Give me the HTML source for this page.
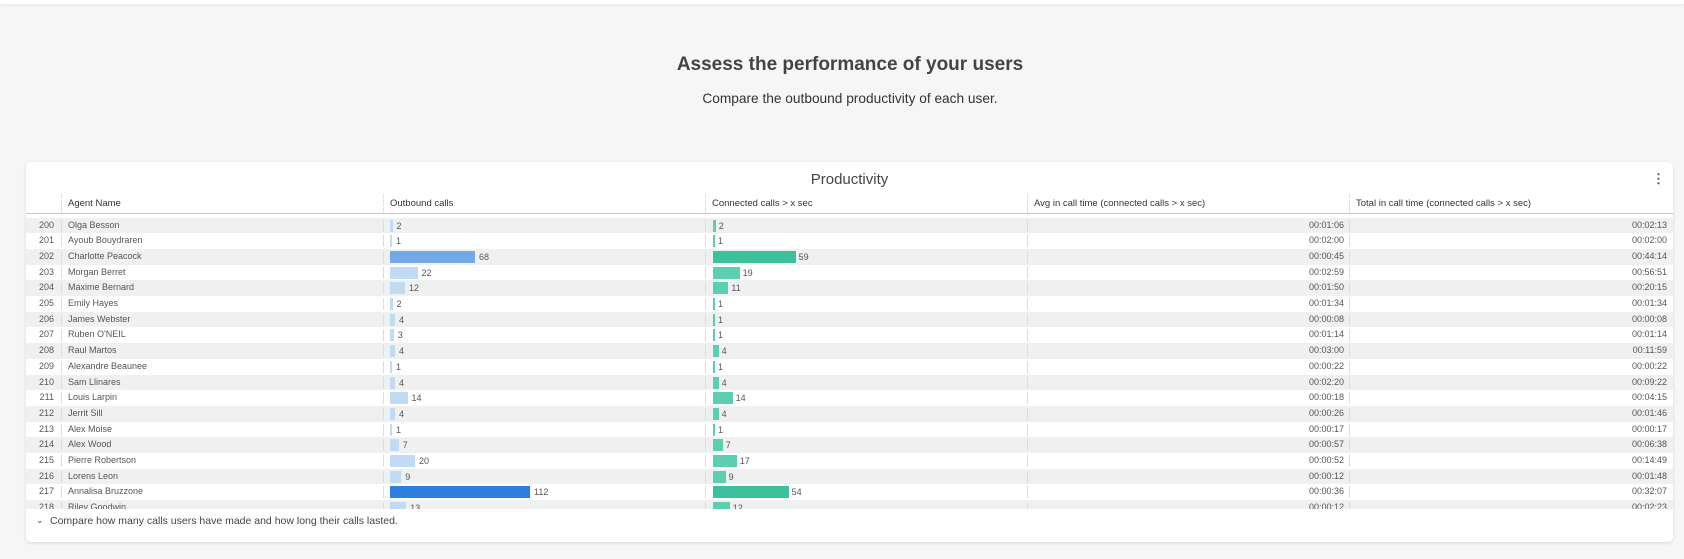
<!DOCTYPE html>
<html><head><meta charset="utf-8"><style>
*{margin:0;padding:0;box-sizing:border-box}
body{width:1684px;height:559px;background:#f6f6f6;font-family:"Liberation Sans",sans-serif;position:relative;overflow:hidden;color:#333}
.topbar{position:absolute;left:0;top:0;width:1684px;height:4px;background:#fff;box-shadow:0 1px 4px rgba(0,0,0,.08)}
h1{position:absolute;left:0;width:1700px;text-align:center;top:54px;font-size:19px;font-weight:bold;color:#444}
.sub{position:absolute;left:0;width:1700px;text-align:center;top:91px;font-size:13.7px;color:#333}
.card{position:absolute;left:26px;top:162px;width:1647px;height:380px;background:#fff;border-radius:5px;box-shadow:0 1px 3px rgba(0,0,0,.12);overflow:hidden}
.title{position:absolute;left:0;width:1647px;text-align:center;top:9px;font-size:15px;color:#444}
.kebab{position:absolute;left:1626px;top:9px;font-size:13px;color:#555;font-weight:bold}
.hdr{position:absolute;top:32px;height:19px;font-size:9.5px;color:#333;padding-left:6px;line-height:19px;border-left:1px dotted #ccc}
.hline{position:absolute;left:0;top:51px;width:1647px;height:1px;background:#c8c8c8}
.row{position:absolute;left:0;width:1647px;height:15.7px;font-size:9px;color:#555;line-height:15.7px}
.row.alt{background:#eff0f0}
.row span{position:absolute}
.vl{position:absolute;top:2px;height:12px;width:1px;background:#ddd}
.bar{position:absolute;top:2px;height:12px}
.foot{position:absolute;left:0;top:347px;width:1647px;height:33px;background:#fff;font-size:10.5px;color:#444}
</style></head><body>
<div class="topbar"></div>
<h1>Assess the performance of your users</h1>
<div class="sub">Compare the outbound productivity of each user.</div>
<div class="card">
<div class="title">Productivity</div>
<div class="kebab">⋮</div>
<div class="hdr" style="left:35px;width:322px">Agent Name</div>
<div class="hdr" style="left:357px;width:322px">Outbound calls</div>
<div class="hdr" style="left:679px;width:322px">Connected calls &gt; x sec</div>
<div class="hdr" style="left:1001px;width:322px">Avg in call time (connected calls &gt; x sec)</div>
<div class="hdr" style="left:1323px;width:324px">Total in call time (connected calls &gt; x sec)</div>
<div class="hline"></div>
<div id="rows"></div>
<div class="foot"><span style="position:absolute;left:10px;top:6px;font-size:9px">⌄</span><span style="position:absolute;left:24px;top:6px">Compare how many calls users have made and how long their calls lasted.</span></div>
</div>
<script>
const d=[["Olga Besson",2,2,"00:01:06","00:02:13"],["Ayoub Bouydraren",1,1,"00:02:00","00:02:00"],["Charlotte Peacock",68,59,"00:00:45","00:44:14"],["Morgan Berret",22,19,"00:02:59","00:56:51"],["Maxime Bernard",12,11,"00:01:50","00:20:15"],["Emily Hayes",2,1,"00:01:34","00:01:34"],["James Webster",4,1,"00:00:08","00:00:08"],["Ruben O'NEIL",3,1,"00:01:14","00:01:14"],["Raul Martos",4,4,"00:03:00","00:11:59"],["Alexandre Beaunee",1,1,"00:00:22","00:00:22"],["Sam Llinares",4,4,"00:02:20","00:09:22"],["Louis Larpin",14,14,"00:00:18","00:04:15"],["Jerrit Sill",4,4,"00:00:26","00:01:46"],["Alex Moise",1,1,"00:00:17","00:00:17"],["Alex Wood",7,7,"00:00:57","00:06:38"],["Pierre Robertson",20,17,"00:00:52","00:14:49"],["Lorens Leon",9,9,"00:00:12","00:01:48"],["Annalisa Bruzzone",112,54,"00:00:36","00:32:07"],["Riley Goodwin",13,12,"00:00:12","00:02:23"]];
let h="";
d.forEach((r,i)=>{
 const top=55.5+i*15.7;
 const oc=r[1]>=100?"#2f7fe0":r[1]>=50?"#74a9e8":"#c0dbf3";
 const cc=r[2]>=50?"#3dc09c":"#5ccfb3";
 const ow=Math.max(2,r[1]*1.25), cw=Math.max(2,r[2]*1.4);
 h+=`<div class="row ${i%2==0?'alt':''}" style="top:${top}px">
 <span style="left:0;width:28px;text-align:right">${200+i}</span>
 <div class="vl" style="left:35px"></div><span style="left:42px">${r[0]}</span>
 <div class="vl" style="left:357px"></div><div class="bar" style="left:364px;width:${ow}px;background:${oc}"></div><span style="left:${368+ow}px;top:1px">${r[1]}</span>
 <div class="vl" style="left:679px"></div><div class="bar" style="left:687px;width:${cw}px;background:${cc}"></div><span style="left:${690+cw}px;top:1px">${r[2]}</span>
 <div class="vl" style="left:1001px"></div><span style="left:1001px;width:317px;text-align:right">${r[3]}</span>
 <div class="vl" style="left:1323px"></div><span style="left:1323px;width:318px;text-align:right">${r[4]}</span></div>`;
});
document.getElementById("rows").innerHTML=h;
</script>
</body></html>
